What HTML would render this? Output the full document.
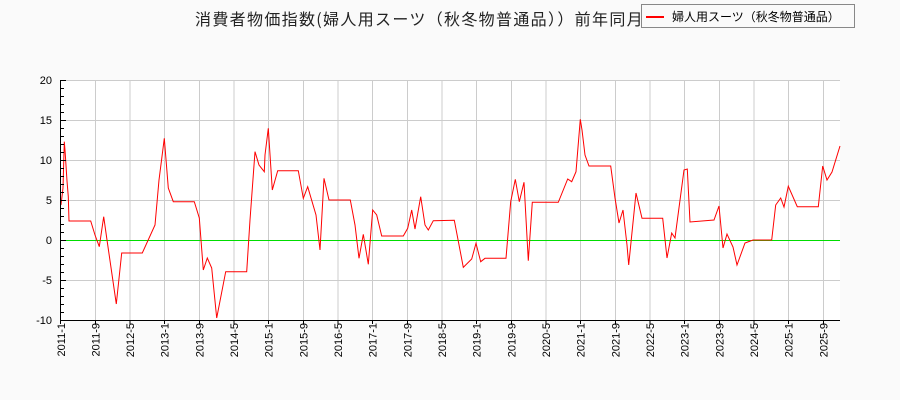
<!DOCTYPE html>
<html><head><meta charset="utf-8"><style>
body{margin:0;background:#fafafa;}
svg{display:block;font-family:"Liberation Sans","DejaVu Sans","Noto Sans CJK JP",sans-serif;}
</style></head><body>
<svg width="900" height="400" xmlns="http://www.w3.org/2000/svg">
<rect width="900" height="400" fill="#fafafa"/>
<rect x="61" y="80" width="779" height="240" fill="#ffffff"/>
<g stroke="#cccccc" stroke-width="1">
<line x1="61" y1="80.5" x2="840" y2="80.5"/><line x1="61" y1="120.5" x2="840" y2="120.5"/>
<line x1="61" y1="160.5" x2="840" y2="160.5"/><line x1="61" y1="200.5" x2="840" y2="200.5"/>
<line x1="61" y1="280.5" x2="840" y2="280.5"/>
<line x1="95.5" y1="80" x2="95.5" y2="320"/><line x1="130" y1="80" x2="130" y2="320"/>
<line x1="164.5" y1="80" x2="164.5" y2="320"/><line x1="199.5" y1="80" x2="199.5" y2="320"/>
<line x1="234" y1="80" x2="234" y2="320"/><line x1="268.5" y1="80" x2="268.5" y2="320"/>
<line x1="303.5" y1="80" x2="303.5" y2="320"/><line x1="338" y1="80" x2="338" y2="320"/>
<line x1="372.5" y1="80" x2="372.5" y2="320"/><line x1="407.5" y1="80" x2="407.5" y2="320"/>
<line x1="442" y1="80" x2="442" y2="320"/><line x1="476.5" y1="80" x2="476.5" y2="320"/>
<line x1="511.5" y1="80" x2="511.5" y2="320"/><line x1="546" y1="80" x2="546" y2="320"/>
<line x1="580.5" y1="80" x2="580.5" y2="320"/><line x1="615.5" y1="80" x2="615.5" y2="320"/>
<line x1="650" y1="80" x2="650" y2="320"/><line x1="684.5" y1="80" x2="684.5" y2="320"/>
<line x1="719.5" y1="80" x2="719.5" y2="320"/><line x1="754" y1="80" x2="754" y2="320"/>
<line x1="788.5" y1="80" x2="788.5" y2="320"/><line x1="823.5" y1="80" x2="823.5" y2="320"/>
</g>
<line x1="61" y1="240.5" x2="840" y2="240.5" stroke="#00dd00" stroke-width="1"/>
<polyline fill="none" stroke="#ff0000" stroke-width="1" points="61,205 63,188 64.3,141.7 65,150 67,181 68.3,196.7 69,221 90.7,221 95,235 99.3,246.7 103.7,216.7 107,240 116.3,304 121.7,253 142.3,253 155,225 159,180 164.3,138.3 168.3,188 173.3,201.7 194.3,201.7 199.3,218 203.3,270 207.3,258 211.7,268 216.7,318 225.7,271.7 246.7,271.7 250,220 255,151.7 259,165 264.3,171.7 265,155 268.3,128.3 272.3,190 277.7,170.7 298.3,170.7 303.3,198.3 307.7,186.7 316,215 320,250 324,178.3 329,200 350.3,200 355,225 359,258.3 363.3,234.3 368.3,264.3 372.7,210 376.7,215 381.7,236 403.3,236 407.7,228.3 411.7,210 415,229 420.7,196.7 425,225 428.3,230 433.3,220.7 454.3,220.3 463.3,267.3 471.7,259 476,243.3 480.7,261.7 485,258.3 506,258.3 510.7,201.7 515.3,179.3 519.3,201.7 524,182.3 528.3,260.7 532.3,202.3 558.3,202.3 567.7,179 571.7,181.7 576,171.7 580.3,119.3 582,130 585,155 589,166 610.7,166 615,198 619,223 623,210 627,245 628.7,265 636,193 642,218.3 662.7,218.3 667,258 671.7,233 675,238 684,170 687.3,169 690,222 714,220 719,206 723,248 727,234 733,247 737,265 745,243 753,240 771.7,240 775.7,205 780.7,198 784,207 788.3,186.3 797.3,206.7 818.3,206.7 822.7,166 827,180 832,172 840,146"/>
<g stroke="#000" stroke-width="1">
<line x1="60.5" y1="80" x2="60.5" y2="321"/>
<line x1="60" y1="320.5" x2="840" y2="320.5"/>
<path d="M61 80.5h5M61 88.5h3M61 96.5h3M61 104.5h3M61 112.5h3M61 120.5h5M61 128.5h3M61 136.5h3M61 144.5h3M61 152.5h3M61 160.5h5M61 168.5h3M61 176.5h3M61 184.5h3M61 192.5h3M61 200.5h5M61 208.5h3M61 216.5h3M61 224.5h3M61 232.5h3M61 240.5h5M61 248.5h3M61 256.5h3M61 264.5h3M61 272.5h3M61 280.5h5M61 288.5h3M61 296.5h3M61 304.5h3M61 312.5h3"/>
<path d="M60.5 320v4M95.5 320v4M130 320v4M164.5 320v4M199.5 320v4M234 320v4M268.5 320v4M303.5 320v4M338 320v4M372.5 320v4M407.5 320v4M442 320v4M476.5 320v4M511.5 320v4M546 320v4M580.5 320v4M615.5 320v4M650 320v4M684.5 320v4M719.5 320v4M754 320v4M788.5 320v4M823.5 320v4"/>
</g>
<g font-size="11" fill="#000" text-anchor="end">
<text x="52" y="84">20</text><text x="52" y="124">15</text><text x="52" y="164">10</text>
<text x="52" y="204">5</text><text x="52" y="244">0</text><text x="52" y="284">-5</text><text x="52" y="324">-10</text>
</g>
<g font-size="11" fill="#000" text-anchor="end">
<text transform="translate(65,323) rotate(-90)">2011-1</text>
<text transform="translate(99.5,323) rotate(-90)">2011-9</text>
<text transform="translate(134,323) rotate(-90)">2012-5</text>
<text transform="translate(168.5,323) rotate(-90)">2013-1</text>
<text transform="translate(203.5,323) rotate(-90)">2013-9</text>
<text transform="translate(238,323) rotate(-90)">2014-5</text>
<text transform="translate(272.5,323) rotate(-90)">2015-1</text>
<text transform="translate(307.5,323) rotate(-90)">2015-9</text>
<text transform="translate(342,323) rotate(-90)">2016-5</text>
<text transform="translate(376.5,323) rotate(-90)">2017-1</text>
<text transform="translate(411.5,323) rotate(-90)">2017-9</text>
<text transform="translate(446,323) rotate(-90)">2018-5</text>
<text transform="translate(480.5,323) rotate(-90)">2019-1</text>
<text transform="translate(515.5,323) rotate(-90)">2019-9</text>
<text transform="translate(550,323) rotate(-90)">2020-5</text>
<text transform="translate(584.5,323) rotate(-90)">2021-1</text>
<text transform="translate(619.5,323) rotate(-90)">2021-9</text>
<text transform="translate(654,323) rotate(-90)">2022-5</text>
<text transform="translate(688.5,323) rotate(-90)">2023-1</text>
<text transform="translate(723.5,323) rotate(-90)">2023-9</text>
<text transform="translate(758,323) rotate(-90)">2024-5</text>
<text transform="translate(792.5,323) rotate(-90)">2025-1</text>
<text transform="translate(827.5,323) rotate(-90)">2025-9</text>
</g>
<text x="195" y="25" font-size="16" fill="#222" font-family="'Noto Sans CJK JP',sans-serif" textLength="465" lengthAdjust="spacing">消費者物価指数(婦人用スーツ（秋冬物普通品））前年同月比</text>
<rect x="641.5" y="4.5" width="213" height="23" fill="#fafafa" stroke="#888"/>
<line x1="646" y1="17" x2="664" y2="17" stroke="#ff0000" stroke-width="2"/>
<text x="672" y="21" font-size="12" fill="#000" font-family="'Noto Sans CJK JP',sans-serif">婦人用スーツ（秋冬物普通品）</text>
</svg>
</body></html>
